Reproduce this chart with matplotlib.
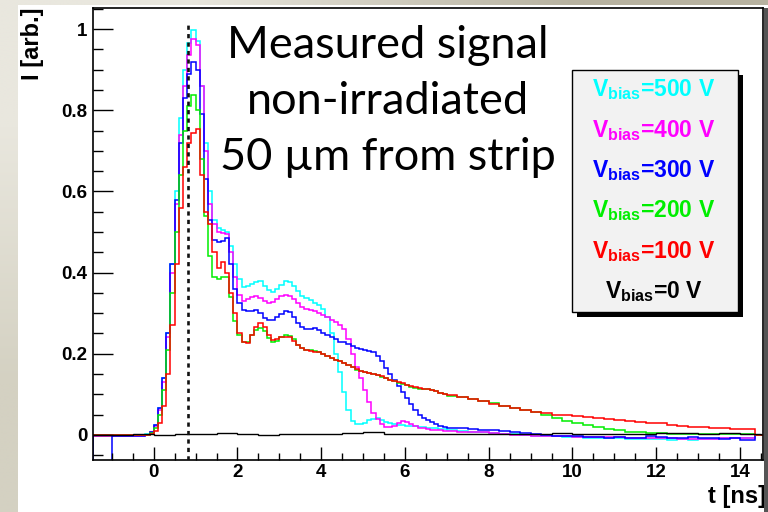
import numpy as np
import matplotlib
matplotlib.use("Agg")
import matplotlib.pyplot as plt
from matplotlib.patches import Rectangle
from matplotlib.ticker import MultipleLocator

plt.rcParams["mathtext.fontset"] = "custom"
plt.rcParams["mathtext.rm"] = "Liberation Sans:bold"
plt.rcParams["mathtext.it"] = "Liberation Sans:bold"
plt.rcParams["mathtext.bf"] = "Liberation Sans:bold"

# ---------------- data ----------------
# bin edges [ns]: one wide bin, 0.1 ns bins from -0.2 to 7.0, 0.25 ns bins to 14.0, end bins
edges = np.round(np.concatenate([[-1.45, -1.0], np.arange(-0.2, 7.0001, 0.1),
                                 np.arange(7.25, 14.0001, 0.25), [14.35, 14.55]]), 3)

v500 = [0.0, -0.001,
        0.002, 0.008, 0.025, 0.065, 0.14, 0.25, 0.42, 0.60, 0.78, 0.90,
        0.965, 0.997, 0.97, 0.86, 0.72, 0.60, 0.53, 0.51, 0.505, 0.50,
        0.465, 0.42, 0.385, 0.365, 0.368, 0.372, 0.377, 0.378, 0.368, 0.356,
        0.353, 0.36, 0.37, 0.378, 0.377, 0.368, 0.355, 0.343, 0.337, 0.332,
        0.326, 0.32, 0.31, 0.29, 0.25, 0.20, 0.155, 0.105, 0.06, 0.035,
        0.027, 0.027, 0.03, 0.036, 0.04, 0.041, 0.036, 0.031, 0.028, 0.026,
        0.025, 0.024, 0.023, 0.022, 0.021, 0.02, 0.019, 0.018, 0.017, 0.016,
        0.015, 0.014,
        0.012, 0.010, 0.008, 0.006, 0.004, 0.003, 0.001, 0.0, -0.002, -0.003,
        -0.004, -0.005, -0.006, -0.007, -0.008, -0.009, -0.009, -0.010, -0.010, -0.011,
        -0.011, -0.012, -0.011, -0.012, -0.010, -0.011, -0.009, -0.008, -0.008, 0.0]

v400 = [-0.003, -0.002,
        0.0, 0.006, 0.022, 0.06, 0.13, 0.24, 0.40, 0.57, 0.74, 0.86,
        0.935, 0.975, 0.96, 0.86, 0.70, 0.57, 0.52, 0.50, 0.497, 0.495,
        0.45, 0.39, 0.345, 0.33, 0.335, 0.34, 0.341, 0.338, 0.33, 0.325,
        0.328, 0.335, 0.342, 0.345, 0.343, 0.335, 0.325, 0.316, 0.311, 0.308,
        0.305, 0.30, 0.296, 0.29, 0.284, 0.277, 0.271, 0.262, 0.235, 0.20,
        0.168, 0.14, 0.11, 0.08, 0.055, 0.038, 0.026, 0.02, 0.019, 0.022,
        0.028, 0.033, 0.032, 0.027, 0.021, 0.018, 0.016, 0.014, 0.013, 0.012,
        0.011, 0.010,
        0.009, 0.008, 0.007, 0.006, 0.004, 0.002, 0.0, -0.001, -0.002, -0.003,
        -0.004, -0.004, -0.005, -0.005, -0.006, -0.006, -0.006, -0.007, -0.008, -0.007,
        -0.008, -0.009, -0.010, -0.011, -0.011, -0.010, -0.009, -0.008, -0.007, 0.0]

v300 = [-0.2, -0.002,
        0.0, 0.006, 0.025, 0.065, 0.14, 0.25, 0.42, 0.58, 0.72, 0.83,
        0.89, 0.92, 0.90, 0.79, 0.63, 0.53, 0.48, 0.475, 0.477, 0.485,
        0.42, 0.36, 0.325, 0.308, 0.305, 0.305, 0.307, 0.30, 0.288, 0.283,
        0.284, 0.29, 0.298, 0.304, 0.302, 0.29, 0.275, 0.265, 0.26, 0.261,
        0.263, 0.258, 0.25, 0.245, 0.24, 0.235, 0.23, 0.228, 0.225, 0.22,
        0.215, 0.212, 0.209, 0.207, 0.205, 0.195, 0.183, 0.165, 0.15, 0.135,
        0.12, 0.105, 0.09, 0.075, 0.062, 0.05, 0.042, 0.036, 0.031, 0.027,
        0.023, 0.02,
        0.018, 0.016, 0.015, 0.013, 0.011, 0.009, 0.006, 0.004, 0.001, -0.001,
        -0.003, -0.004, -0.004, -0.006, -0.005, -0.007, -0.006, -0.008, -0.007, -0.004,
        -0.006, -0.009, -0.008, -0.006, -0.008, -0.007, -0.010, -0.009, -0.012, 0.0]

v200 = [0.0, -0.001,
        0.0, 0.004, 0.018, 0.05, 0.11, 0.21, 0.35, 0.50, 0.64, 0.75,
        0.81, 0.837, 0.80, 0.68, 0.54, 0.44, 0.39, 0.383, 0.388, 0.39,
        0.34, 0.28, 0.245, 0.228, 0.23, 0.245, 0.258, 0.263, 0.255, 0.238,
        0.228, 0.232, 0.24, 0.246, 0.244, 0.235, 0.222, 0.213, 0.21, 0.208,
        0.206, 0.204, 0.2, 0.195, 0.19, 0.185, 0.181, 0.177, 0.172, 0.166,
        0.161, 0.158, 0.156, 0.153, 0.15, 0.147, 0.143, 0.139, 0.135, 0.132,
        0.129, 0.126, 0.122, 0.119, 0.116, 0.114, 0.113, 0.112, 0.111, 0.108,
        0.104, 0.10,
        0.096, 0.093, 0.089, 0.083, 0.078, 0.072, 0.067, 0.062, 0.056, 0.049,
        0.042, 0.035, 0.029, 0.024, 0.019, 0.014, 0.011, 0.008, 0.006, 0.005,
        0.004, 0.003, 0.003, 0.002, 0.002, 0.002, 0.001, 0.001, 0.001, 0.0]

v100 = [0.0, -0.001,
        0.0, 0.002, 0.01, 0.03, 0.07, 0.15, 0.27, 0.42, 0.56, 0.66,
        0.72, 0.745, 0.755, 0.64, 0.55, 0.52, 0.45, 0.41, 0.425, 0.40,
        0.35, 0.30, 0.25, 0.228, 0.227, 0.245, 0.265, 0.276, 0.265, 0.245,
        0.234, 0.236, 0.24, 0.242, 0.24, 0.232, 0.222, 0.213, 0.209, 0.207,
        0.205, 0.203, 0.199, 0.194, 0.19, 0.185, 0.181, 0.177, 0.173, 0.167,
        0.162, 0.158, 0.155, 0.152, 0.15, 0.147, 0.144, 0.14, 0.136, 0.133,
        0.13, 0.127, 0.123, 0.12, 0.117, 0.115, 0.113, 0.112, 0.11, 0.107,
        0.103, 0.10,
        0.097, 0.093, 0.088, 0.083, 0.077, 0.072, 0.066, 0.061, 0.057, 0.054,
        0.050, 0.048, 0.046, 0.044, 0.042, 0.040, 0.036, 0.033, 0.031, 0.030,
        0.029, 0.025, 0.021, 0.020, 0.019, 0.017, 0.016, 0.015, 0.014, 0.0]

# 0 V curve on coarser bins
edges0 = np.round(np.concatenate([[-1.45], np.arange(-1.0, 14.5001, 0.5)]), 3)
v0 = [-0.001, 0.0, 0.001, 0.0, 0.001, 0.003, 0.004, 0.001, 0.0, 0.003,
      0.002, 0.001, 0.004, 0.006, 0.002, 0.002, 0.001, 0.002, 0.001, 0.003,
      0.003, 0.002, 0.004, 0.003, 0.002, 0.001, 0.003, 0.004, 0.005, 0.003,
      0.004, 0.002]

t_marker = 0.81

labels = ["500", "400", "300", "200", "100", "0"]
series = [v500, v400, v300, v200, v100]
colors = ["#00ffff", "#ff00ff", "#0000ff", "#00ee00", "#ff0000", "#000000"]

# ---------------- figure ----------------
W, H = 768, 512
fig = plt.figure(figsize=(W / 100, H / 100), dpi=100)

# slide background gradient + white canvas
bg = fig.add_axes([0, 0, 1, 1], zorder=-10)
grad = np.array([[[233, 231, 222], [183, 178, 160]],
                 [[212, 209, 194], [200, 196, 180]]]) / 255.0
bg.imshow(grad, extent=[0, 1, 0, 1], aspect="auto", interpolation="bilinear")
bg.add_patch(Rectangle((18 / W, 0), 1 - 18 / W, 1 - 5 / H, facecolor="white",
                       edgecolor="none"))
bg.set_xlim(0, 1)
bg.set_ylim(0, 1)
bg.axis("off")

def fx(px):
    return px / W

def fy(py):
    return 1 - py / H

ax = fig.add_axes([fx(93), fy(460), (763 - 93) / W, (460 - 8) / H])
ax.set_xlim(-1.45, 14.55)
ax.set_ylim(-0.062, 1.052)

for vals, c in zip(series, colors[:5]):
    ax.stairs(vals, edges, color=c, lw=1.1)
ax.stairs(v0, edges0, color="black", lw=1.0)

ax.vlines(t_marker, -0.062, 1.015, colors="#111111", lw=1.9,
          linestyles=(0, (1.6, 1.6)), zorder=5)

ax.xaxis.set_major_locator(MultipleLocator(2))
ax.xaxis.set_minor_locator(MultipleLocator(0.5))
ax.yaxis.set_major_locator(MultipleLocator(0.2))
ax.yaxis.set_minor_locator(MultipleLocator(0.05))
ax.set_yticks([0, 0.2, 0.4, 0.6, 0.8, 1.0])
ax.set_yticklabels(["0", "0.2", "0.4", "0.6", "0.8", "1"])
ax.tick_params(axis="x", which="major", direction="in", length=9.5, width=1.0, pad=3)
ax.tick_params(axis="x", which="minor", direction="in", length=5, width=1.0)
ax.tick_params(axis="y", which="major", direction="in", length=14.5, width=1.0, pad=4)
ax.tick_params(axis="y", which="minor", direction="in", length=7.2, width=1.0)
for lab in ax.get_xticklabels() + ax.get_yticklabels():
    lab.set_fontfamily("Liberation Sans")
    lab.set_fontweight("bold")
    lab.set_fontsize(13.5)
for s in ax.spines.values():
    s.set_linewidth(1.2)

# axis titles
fig.text(fx(32), fy(7), "I [arb.]", rotation=90, ha="center", va="top",
         fontfamily="Liberation Sans", fontweight="bold", fontsize=17)
fig.text(fx(766), fy(497), "t [ns]", ha="right", va="center",
         fontfamily="Liberation Sans", fontweight="bold", fontsize=17)

# big annotation
for txt, base in zip(["Measured signal", "non-irradiated", "50 \u00b5m from strip"],
                     [58, 114, 170]):
    fig.text(fx(388), fy(base), txt, ha="center", va="baseline",
             fontfamily="Lato", fontsize=32.5, color="black")

# legend pave with shadow
bx0, bx1, by0, by1 = 571.5, 738, 69.5, 311.5
fig.patches.append(Rectangle((fx(bx0 + 5), fy(by1 + 5)), (bx1 - bx0) / W, (by1 - by0) / H,
                             transform=fig.transFigure, facecolor="black",
                             edgecolor="none", zorder=20))
fig.patches.append(Rectangle((fx(bx0), fy(by1)), (bx1 - bx0) / W, (by1 - by0) / H,
                             transform=fig.transFigure, facecolor="#f2f2f2",
                             edgecolor="black", lw=1.0, zorder=21))
for i, (lab, c) in enumerate(zip(labels, colors)):
    fig.text(fx(654), fy(96.5 + 40.3 * i), r"V$_{\mathrm{bias}}$=" + lab + " V",
             ha="center", va="baseline", color=c, fontfamily="Liberation Sans",
             fontweight="bold", fontsize=16.5, zorder=22)

# right canvas shadow
fig.patches.append(Rectangle((fx(764), 0), 4 / W, fy(8), transform=fig.transFigure,
                             facecolor="#555555", edgecolor="none", zorder=19))

fig.savefig("out.png", dpi=100)
